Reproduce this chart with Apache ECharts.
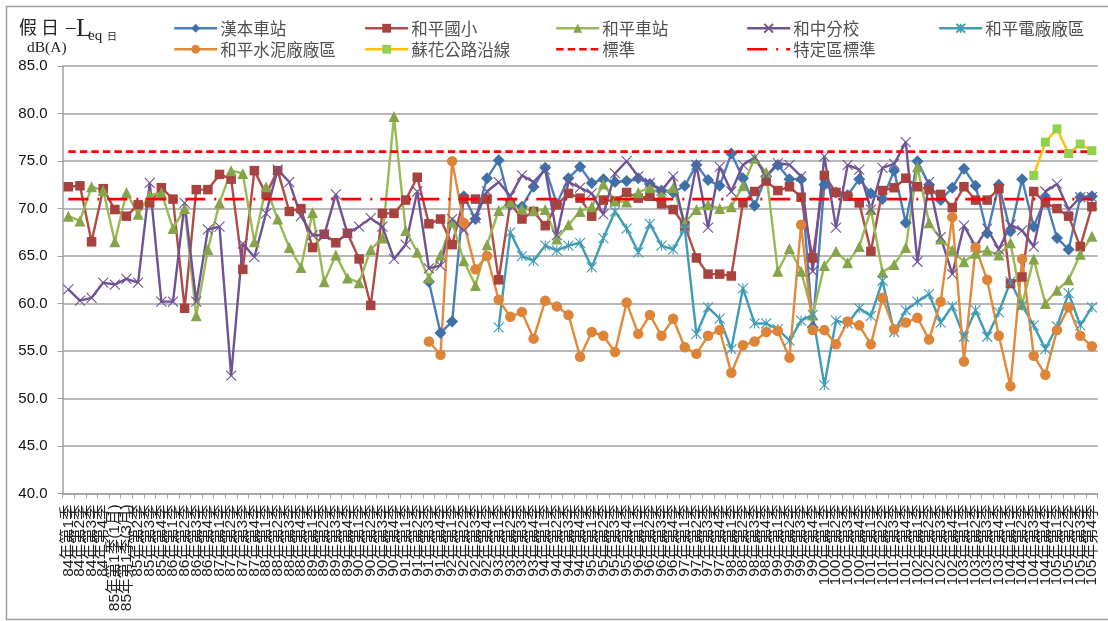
<!DOCTYPE html>
<html><head><meta charset="utf-8">
<style>html,body{margin:0;padding:0;background:#fff}#c{width:1108px;height:621px}</style>
<script src="https://cdn.jsdelivr.net/npm/echarts@6/dist/echarts.min.js"></script>
</head><body><div id="c"></div>
<script>
const categories=["84年第1季","84年第2季","84年第3季","84年第4季","85年第1季(1月)","85年第1季(3月)","85年第2季","85年第3季","85年第4季","86年第1季","86年第2季","86年第3季","86年第4季","87年第1季","87年第2季","87年第3季","87年第4季","88年第1季","88年第2季","88年第3季","88年第4季","89年第1季","89年第2季","89年第3季","89年第4季","90年第1季","90年第2季","90年第3季","90年第4季","91年第1季","91年第2季","91年第3季","91年第4季","92年第1季","92年第2季","92年第3季","92年第4季","93年第1季","93年第2季","93年第3季","93年第4季","94年第1季","94年第2季","94年第3季","94年第4季","95年第1季","95年第2季","95年第3季","95年第4季","96年第1季","96年第2季","96年第3季","96年第4季","97年第1季","97年第2季","97年第3季","97年第4季","98年第1季","98年第2季","98年第3季","98年第4季","99年第1季","99年第2季","99年第3季","99年第4季","100年第1季","100年第2季","100年第3季","100年第4季","101年第1季","101年第2季","101年第3季","101年第4季","102年第1季","102年第2季","102年第3季","102年第4季","103年第1季","103年第2季","103年第3季","103年第4季","104年第1季","104年第2季","104年第3季","104年第4季","105年第1季","105年第2季","105年第3季","105年第4季"];
const _=null;
const hanben=[_,_,_,_,_,_,_,_,_,_,_,_,_,_,_,_,_,_,_,_,_,_,_,_,_,_,_,_,_,_,_,62.3,56.9,58.1,71.3,68.9,73.2,75.1,70.4,70.2,72.3,74.3,70.5,73.2,74.4,72.7,73.1,72.8,72.9,73.2,72.6,71.9,71.7,72.4,74.6,73.0,72.4,75.8,73.2,70.3,73.4,74.6,73.1,73.1,57.5,72.5,71.7,71.4,73.1,71.6,71.0,74.0,68.5,75.0,72.5,70.9,72.2,74.2,72.4,67.4,72.5,67.6,73.1,68.1,71.1,66.9,65.7,71.2,71.3];
const heping=[72.3,72.4,66.5,72.1,69.9,69.2,70.4,70.6,72.2,71.0,59.5,72.0,72.0,73.6,73.1,63.6,74.0,71.5,74.0,69.7,70.0,65.9,67.3,66.4,67.4,64.7,59.8,69.5,69.5,70.9,73.3,68.4,68.9,66.2,71.0,71.0,71.0,62.5,70.6,68.9,69.7,68.2,70.4,71.6,71.1,69.2,70.9,70.8,71.7,71.1,71.3,70.5,69.9,68.2,64.8,63.1,63.1,62.9,70.6,71.8,72.9,71.9,72.3,71.2,64.8,73.5,71.7,71.3,70.6,65.5,71.9,72.2,73.2,72.3,72.0,71.5,70.1,72.3,70.9,70.9,72.1,62.1,62.8,71.8,70.6,70.0,69.2,66.0,70.2];
const hepingStation=[69.2,68.7,72.3,71.9,66.5,71.7,69.4,71.4,71.7,67.9,70.0,58.7,65.7,70.6,74.0,73.7,66.5,72.3,68.9,65.9,63.8,69.6,62.3,65.1,62.7,62.2,65.7,66.9,79.7,67.7,65.4,62.7,65.1,68.6,64.5,61.9,66.2,69.8,70.7,70.0,69.8,69.9,66.8,68.3,69.7,70.2,72.6,70.8,70.7,71.7,72.2,71.5,72.2,68.5,69.9,70.4,70.0,70.2,72.4,75.3,73.8,63.4,65.8,63.4,58.8,64.0,65.5,64.3,66.0,69.9,63.3,64.1,65.9,74.4,68.5,66.8,65.6,64.4,65.3,65.6,65.1,66.4,59.9,64.7,60.0,61.4,62.5,65.2,67.1];
const hezhong=[61.5,60.3,60.6,62.2,62.0,62.6,62.2,72.7,60.2,60.2,70.6,60.2,67.8,68.1,52.4,66.3,64.9,69.5,74.1,72.8,69.2,67.2,67.2,71.5,67.4,68.1,69.0,68.1,64.7,66.2,71.8,63.7,64.0,68.9,67.7,69.0,71.8,72.8,71.3,73.5,72.8,74.1,67.2,72.8,72.2,71.6,69.4,73.7,75.0,73.4,72.7,71.9,73.4,68.1,74.6,68.0,74.4,71.8,74.6,75.4,73.4,74.8,74.6,73.4,63.4,75.5,68.0,74.6,74.1,69.9,74.3,74.7,77.0,64.4,72.8,67.0,63.1,68.2,66.0,67.9,65.7,68.3,67.7,66.0,71.8,72.6,69.9,71.2,71.2];
const power=[_,_,_,_,_,_,_,_,_,_,_,_,_,_,_,_,_,_,_,_,_,_,_,_,_,_,_,_,_,_,_,_,_,_,_,_,_,57.5,67.5,65.0,64.5,66.1,65.6,66.1,66.4,63.8,66.9,69.7,67.9,65.4,68.4,66.1,65.7,67.9,56.8,59.6,58.4,55.2,61.6,57.9,57.9,57.3,56.1,58.2,58.8,51.4,58.2,57.9,59.5,58.7,62.4,57.0,59.3,60.2,61.0,58.0,59.7,56.5,59.3,56.5,59.1,62.3,59.8,57.7,55.2,57.6,61.1,57.7,59.6];
const cement=[_,_,_,_,_,_,_,_,_,_,_,_,_,_,_,_,_,_,_,_,_,_,_,_,_,_,_,_,_,_,_,56.0,54.6,75.0,68.5,63.6,65.0,60.4,58.6,59.1,56.3,60.3,59.7,58.8,54.4,57.0,56.6,54.9,60.1,56.8,58.8,56.6,58.4,55.4,54.7,56.6,57.2,52.7,55.6,56.0,57.0,57.1,54.3,68.3,57.2,57.2,55.7,58.1,57.7,55.7,60.6,57.3,58.0,58.5,56.2,60.2,69.1,53.9,65.9,62.5,56.6,51.3,64.7,54.5,52.5,57.2,59.6,56.6,55.5];
const suhua=[_,_,_,_,_,_,_,_,_,_,_,_,_,_,_,_,_,_,_,_,_,_,_,_,_,_,_,_,_,_,_,_,_,_,_,_,_,_,_,_,_,_,_,_,_,_,_,_,_,_,_,_,_,_,_,_,_,_,_,_,_,_,_,_,_,_,_,_,_,_,_,_,_,_,_,_,_,_,_,_,_,_,_,73.5,77.0,78.4,75.8,76.8,76.1];
const standard=[76,76,76,76,76,76,76,76,76,76,76,76,76,76,76,76,76,76,76,76,76,76,76,76,76,76,76,76,76,76,76,76,76,76,76,76,76,76,76,76,76,76,76,76,76,76,76,76,76,76,76,76,76,76,76,76,76,76,76,76,76,76,76,76,76,76,76,76,76,76,76,76,76,76,76,76,76,76,76,76,76,76,76,76,76,76,76,76,76];
const specialStandard=[71,71,71,71,71,71,71,71,71,71,71,71,71,71,71,71,71,71,71,71,71,71,71,71,71,71,71,71,71,71,71,71,71,71,71,71,71,71,71,71,71,71,71,71,71,71,71,71,71,71,71,71,71,71,71,71,71,71,71,71,71,71,71,71,71,71,71,71,71,71,71,71,71,71,71,71,71,71,71,71,71,71,71,71,71,71,71,71,71];

const cross='path://M0 0L10 10M10 0L0 10';
const star='path://M0 0L10 10M10 0L0 10M5 0L5 10';
function mark(name,data,line,fill,symbol,size,z){
  return {name,type:'line',data,symbol,symbolSize:size,connectNulls:false,z:z||3,
    lineStyle:{color:line,width:2.4},itemStyle:{color:fill,borderColor:line,borderWidth:0},emphasis:{disabled:true},animation:false};
}
function strokeMark(name,data,line,symbol,size){
  return {name,type:'line',data,symbol,symbolSize:size,z:3,
    lineStyle:{color:line,width:2.4},itemStyle:{color:'rgba(0,0,0,0)',borderColor:line,borderWidth:1.1},emphasis:{disabled:true},animation:false};
}
const series=[
  mark('漢本車站',hanben,'#4a7ebb','#3f71a8','diamond',12),
  mark('和平國小',heping,'#b04b48','#a8423f','rect',9.5),
  mark('和平車站',hepingStation,'#98b954','#86a44a','triangle',11),
  strokeMark('和中分校',hezhong,'#6f5395',cross,10),
  strokeMark('和平電廠廠區',power,'#409bb5',star,10),
  mark('和平水泥廠廠區',cement,'#e08a3c','#dd8439','circle',10.5),
  mark('蘇花公路沿線',suhua,'#ffc000','#92d050','rect',9,5),
  {name:'標準',type:'line',data:standard,symbol:'none',z:4,animation:false,lineStyle:{color:'#ff0000',width:2.8,type:[7.5,4]},itemStyle:{color:'#ff0000'},emphasis:{disabled:true}},
  {name:'特定區標準',type:'line',data:specialStandard,symbol:'none',z:4,animation:false,lineStyle:{color:'#ff0000',width:2.8,type:[20,9,2,8]},itemStyle:{color:'#ff0000'},emphasis:{disabled:true}}
];
const cjk='"Noto Sans CJK TC","Noto Sans",sans-serif';
const legendAt=(name,left,top,extra)=>Object.assign({show:true,data:[name],left,top,itemWidth:43,itemHeight:11,itemGap:0,padding:0,
  lineStyle:{width:2.4},
  textStyle:{fontFamily:cjk,fontSize:16.5,color:'#505050',padding:[0,0,0,-2]},selectedMode:false},extra||{});
const noMark={itemStyle:{color:'rgba(0,0,0,0)',borderWidth:0}};
const chart=echarts.init(document.getElementById('c'),null,{renderer:'canvas'});
chart.setOption({
  animation:false,backgroundColor:'#fff',
  graphic:[
    {type:'rect',shape:{x:6.5,y:6.5,width:1200,height:613},style:{fill:'none',stroke:'#a0a0a0',lineWidth:1.5},silent:true,z:0},
    {type:'text',left:19,top:18,style:{text:'假 日',font:'18px "Noto Sans CJK TC"',fill:'#222'}},
    {type:'text',left:66,top:19,style:{text:'–',font:'19px "Liberation Serif"',fill:'#222'}},
    {type:'text',left:76,top:16,style:{text:'L',font:'26px "Liberation Serif"',fill:'#222'}},
    {type:'text',left:88,top:29,style:{text:'eq',font:'15px "Liberation Serif"',fill:'#222'}},
    {type:'text',left:107,top:31,style:{text:'日',font:'10px "Noto Sans CJK TC"',fill:'#222'}},
    {type:'text',left:27,top:40,style:{text:'dB(A)',font:'15.5px "Liberation Serif"',fill:'#222'}}
  ],
  legend:[
    legendAt('漢本車站',173,20),legendAt('和平國小',364,20),legendAt('和平車站',555,20),legendAt('和中分校',746,20),legendAt('和平電廠廠區',938,20),
    legendAt('和平水泥廠廠區',173,41),legendAt('蘇花公路沿線',364,41),legendAt('標準',555,41,noMark),legendAt('特定區標準',746,41,noMark)
  ],
  grid:{left:62.5,right:10.3,top:66.2,bottom:127.6,containLabel:false},
  xAxis:{type:'category',data:categories,boundaryGap:true,
    axisLine:{lineStyle:{color:'#a0a0a0',width:1.5}},
    axisTick:{show:true,length:5,interval:0,lineStyle:{color:'#a0a0a0',width:1}},
    axisLabel:{interval:0,rotate:90,margin:11,hideOverlap:false,fontFamily:'"Liberation Sans","Noto Sans CJK TC",sans-serif',fontSize:15.5,color:'#222'}},
  yAxis:{type:'value',min:40,max:85,interval:5,
    axisLine:{show:true,lineStyle:{color:'#a0a0a0',width:1.5}},
    axisTick:{show:true,length:5,lineStyle:{color:'#a0a0a0',width:1}},
    splitLine:{lineStyle:{color:'#a0a0a0',width:1.5}},
    axisLabel:{margin:15,fontFamily:'"Liberation Sans"',fontSize:15,color:'#111',formatter:v=>v.toFixed(1)}},
  series
});
</script></body></html>
